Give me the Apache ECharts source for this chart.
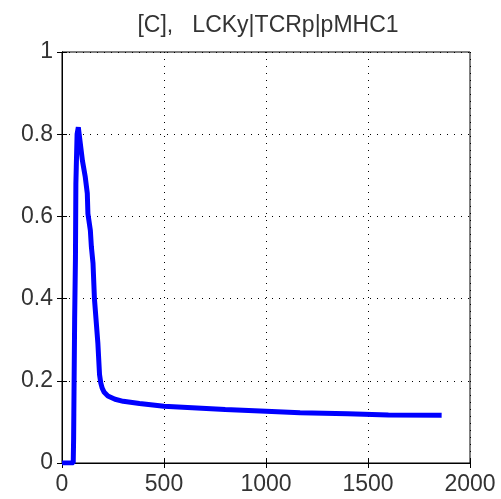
<!DOCTYPE html>
<html>
<head>
<meta charset="utf-8">
<script src="https://cdn.jsdelivr.net/npm/echarts@6/dist/echarts.min.js"></script>
<style>
  html, body { margin: 0; padding: 0; background: #fff; }
  #chart { width: 501px; height: 499px; }
</style>
</head>
<body>
<div id="chart"></div>
<script>
// Time points and concentration of the LCKy|TCRp|pMHC1 complex
const timePoints = [0, 55, 57, 58, 62, 66, 68, 70, 74, 80, 88, 100, 114, 124, 127, 139, 144, 152, 159, 176, 184, 190, 197, 207, 225, 260, 300, 380, 500, 800, 1000, 1167, 1400, 1600, 1861];
const concentration = [0, 0, 0.06, 0.12, 0.35, 0.5, 0.68, 0.72, 0.8, 0.817, 0.815, 0.736, 0.696, 0.656, 0.607, 0.566, 0.526, 0.486, 0.4, 0.29, 0.215, 0.195, 0.182, 0.172, 0.163, 0.155, 0.15, 0.145, 0.138, 0.13, 0.126, 0.122, 0.12, 0.117, 0.116];
const xTicks = [0, 500, 1000, 1500, 2000];
const yTicks = [0, 0.2, 0.4, 0.6, 0.8, 1];
const chartTitle = '[C],   LCKy|TCRp|pMHC1';

const points = timePoints.map((t, i) => [t, concentration[i]]);

const fontFamily = 'Liberation Sans, Arial, sans-serif';
const labelStyle = { color: '#333', fontFamily: fontFamily, fontSize: 23 };
const dotted = { show: true, lineStyle: { color: '#000', type: [1, 6], width: 1 } };
const tick = { show: true, inside: true, length: 5, lineStyle: { color: '#000' } };
const axisLine = { show: true, lineStyle: { color: '#000' } };

const chart = echarts.init(document.getElementById('chart'), null, { renderer: 'canvas' });
chart.setOption({
  animation: false,
  backgroundColor: '#fff',
  title: {
    text: chartTitle,
    left: 263, textAlign: 'center', top: 9,
    textStyle: { color: '#333', fontWeight: 'normal', fontFamily: fontFamily, fontSize: 23 }
  },
  grid: { left: 62, right: 31, top: 52, bottom: 36, show: true, borderColor: '#000', borderWidth: 1, backgroundColor: '#fff' },
  xAxis: [{
    type: 'value', min: xTicks[0], max: xTicks[xTicks.length - 1], interval: 500,
    axisLine: axisLine, axisTick: tick,
    axisLabel: Object.assign({ margin: 10, formatter: v => String(v) }, labelStyle),
    splitLine: dotted
  }, {
    type: 'value', position: 'top', min: xTicks[0], max: xTicks[xTicks.length - 1], interval: 500,
    axisLine: axisLine, axisTick: tick,
    axisLabel: { show: false }, splitLine: { show: false }
  }],
  yAxis: [{
    type: 'value', min: yTicks[0], max: yTicks[yTicks.length - 1], interval: 0.2,
    axisLine: axisLine, axisTick: tick,
    axisLabel: Object.assign({ margin: 9, formatter: v => String(Math.round(v * 10) / 10) }, labelStyle),
    splitLine: dotted
  }, {
    type: 'value', position: 'right', min: yTicks[0], max: yTicks[yTicks.length - 1], interval: 0.2,
    axisLine: axisLine, axisTick: tick,
    axisLabel: { show: false }, splitLine: { show: false }
  }],
  series: [{
    type: 'line',
    data: points,
    showSymbol: false,
    lineStyle: { color: '#0000ff', width: 5 },
    z: 5
  }]
});
</script>
</body>
</html>
